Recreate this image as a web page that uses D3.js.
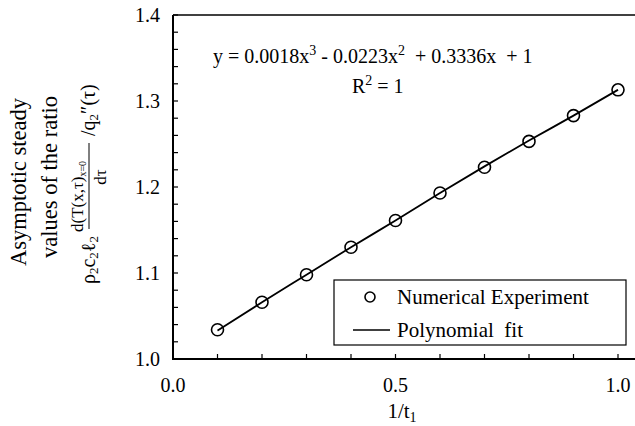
<!DOCTYPE html>
<html><head><meta charset="utf-8">
<script src="https://cdn.jsdelivr.net/npm/d3@7"></script>
<style>body{margin:0;background:#fff}svg{display:block}text{font-family:"Liberation Serif","Times New Roman",serif;fill:#000}</style>
</head><body><svg id="c" width="635" height="426"></svg>
<script>
const xVals = [0.1,0.2,0.3,0.4,0.5,0.6,0.7,0.8,0.9,1.0];
const expVals = [1.034,1.066,1.098,1.130,1.161,1.193,1.223,1.253,1.283,1.313];
const fitVals = [1.033,1.066,1.098,1.130,1.161,1.193,1.224,1.254,1.283,1.313];
const xTickLabels = ["0.0","0.5","1.0"];
const yTickLabels = ["1.0","1.1","1.2","1.3","1.4"];
const seriesNames = ["Numerical Experiment","Polynomial  fit"];

const svg = d3.select("#c");
const L=173, R=618, T=15, B=359;
const x = d3.scaleLinear().domain([0,1]).range([L,R]);
const y = d3.scaleLinear().domain([1.0,1.4]).range([B,T]);

svg.append("line").attr("x1",L).attr("x2",635).attr("y1",B).attr("y2",B).attr("stroke","#000").attr("stroke-width",2);
svg.append("line").attr("x1",L).attr("x2",635).attr("y1",T).attr("y2",T).attr("stroke","#000").attr("stroke-width",1.6);
svg.append("line").attr("x1",L).attr("x2",L).attr("y1",T).attr("y2",B+1).attr("stroke","#000").attr("stroke-width",2);

const xt = d3.range(0,11).map(i=>i/10);
svg.selectAll(".xt").data(xt).enter().append("line")
 .attr("x1",d=>x(d)).attr("x2",d=>x(d)).attr("y1",B).attr("y2",B-5).attr("stroke","#000").attr("stroke-width",1.2);
const yt = d3.range(0,21).map(i=>1+i*0.02);
svg.selectAll(".yt").data(yt).enter().append("line")
 .attr("x1",L).attr("x2",L+5).attr("y1",d=>y(d)).attr("y2",d=>y(d)).attr("stroke","#000").attr("stroke-width",1.2);

svg.selectAll(".xl").data(xTickLabels).enter().append("text")
 .attr("x",d=>x(+d)).attr("y",392).attr("text-anchor","middle").attr("font-size",20).text(d=>d);
svg.selectAll(".yl").data(yTickLabels).enter().append("text")
 .attr("x",160).attr("y",d=>y(+d)).attr("dy","0.35em").attr("text-anchor","end").attr("font-size",20).text(d=>d);

const xtitle = svg.append("text").attr("x",402).attr("y",418).attr("text-anchor","middle").attr("font-size",21);
xtitle.append("tspan").text("1/t");
xtitle.append("tspan").attr("font-size",14).attr("dy",4).text("1");

svg.append("text").attr("transform","translate(26,182) rotate(-90)").attr("text-anchor","middle").attr("font-size",22.5).text("Asymptotic steady");
svg.append("text").attr("transform","translate(57,177) rotate(-90)").attr("text-anchor","middle").attr("font-size",22.5).text("values of the ratio");

// formula (rotated)
const f = svg.append("g").attr("transform","rotate(-90)");
const t1 = f.append("text").attr("x",-284).attr("y",95).attr("font-size",20);
t1.append("tspan").text("ρ");
t1.append("tspan").attr("font-size",13).attr("dy",3).text("2");
t1.append("tspan").attr("dy",-3).text("c");
t1.append("tspan").attr("font-size",13).attr("dy",3).text("2");
t1.append("tspan").attr("dy",-3).text("ℓ");
t1.append("tspan").attr("font-size",13).attr("dy",3).text("2");
f.append("line").attr("x1",-229).attr("x2",-143).attr("y1",89).attr("y2",89).attr("stroke","#000").attr("stroke-width",1);
const num = f.append("text").attr("x",-232).attr("y",83).attr("font-size",17);
num.append("tspan").text("d(T(x,τ)");
num.append("tspan").attr("font-size",10).attr("dy",3).text("x=0");
f.append("text").attr("x",-177).attr("y",106).attr("text-anchor","middle").attr("font-size",17).text("dτ");
const t2 = f.append("text").attr("x",-136).attr("y",95).attr("font-size",20);
t2.append("tspan").text("/q");
t2.append("tspan").attr("font-size",13).attr("dy",3).text("2");
t2.append("tspan").attr("dy",-3).text("″(τ)");

const line = d3.line().x((d,i)=>x(xVals[i])).y(d=>y(d)).curve(d3.curveMonotoneX);
svg.append("path").datum(fitVals).attr("d",line).attr("fill","none").attr("stroke","#000").attr("stroke-width",1.8);
svg.selectAll(".pt").data(expVals).enter().append("circle")
 .attr("cx",(d,i)=>x(xVals[i])).attr("cy",d=>y(d)).attr("r",6).attr("fill","none").attr("stroke","#000").attr("stroke-width",1.6);

const eq = svg.append("text").attr("x",213).attr("y",63).attr("font-size",20).style("white-space","pre");
eq.append("tspan").text("y = 0.0018x");
eq.append("tspan").attr("font-size",14).attr("dy",-8).text("3");
eq.append("tspan").attr("dy",8).text(" - 0.0223x");
eq.append("tspan").attr("font-size",14).attr("dy",-8).text("2");
eq.append("tspan").attr("dy",8).text("  + 0.3336x  + 1");
const r2 = svg.append("text").attr("x",352).attr("y",93).attr("font-size",20);
r2.append("tspan").text("R");
r2.append("tspan").attr("font-size",14).attr("dy",-8).text("2");
r2.append("tspan").attr("dy",8).text(" = 1");

svg.append("rect").attr("x",334).attr("y",280).attr("width",292).attr("height",65).attr("fill","#fff").attr("stroke","#000").attr("stroke-width",1.2);
svg.append("circle").attr("cx",370).attr("cy",297).attr("r",5).attr("fill","none").attr("stroke","#000").attr("stroke-width",1.6);
svg.append("line").attr("x1",353).attr("x2",390).attr("y1",330).attr("y2",330).attr("stroke","#000").attr("stroke-width",1.6);
svg.append("text").attr("x",397).attr("y",304).attr("font-size",21).text(seriesNames[0]);
svg.append("text").attr("x",397).attr("y",337).attr("font-size",21).style("white-space","pre").text(seriesNames[1]);
</script></body></html>
